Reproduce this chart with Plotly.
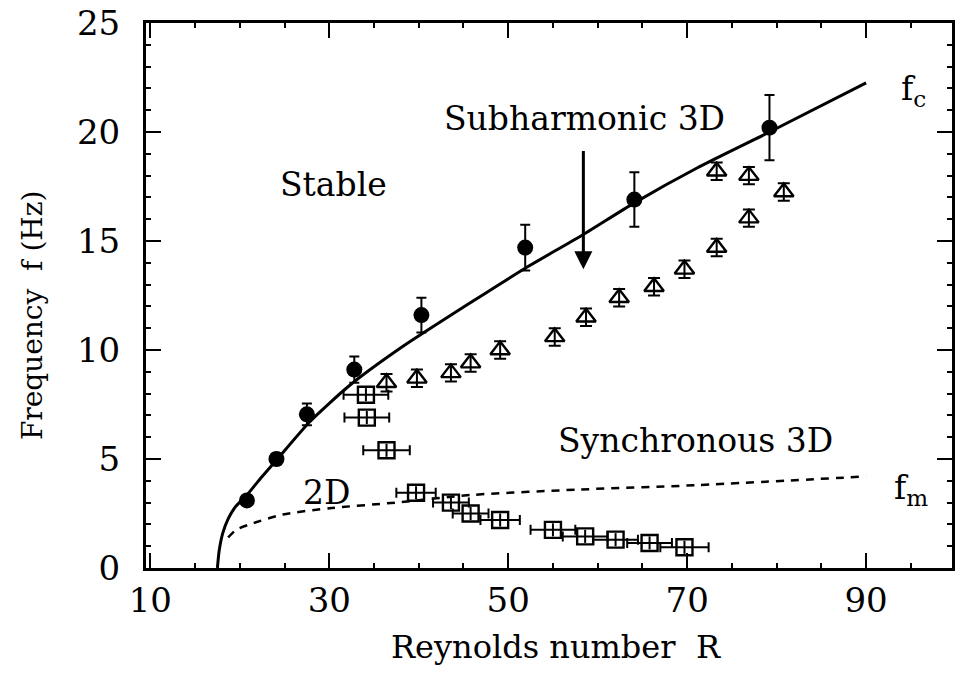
import plotly.graph_objects as go

# Critical frequency f_c: measured points (filled circles) with vertical error bars
fc_R = [20.8, 24.1, 27.5, 32.8, 40.3, 51.9, 64.1, 79.2]
fc_f = [3.1, 5.0, 7.05, 9.1, 11.6, 14.7, 16.9, 20.2]
fc_err = [0.2, 0.25, 0.5, 0.6, 0.8, 1.05, 1.25, 1.5]

# Fitted f_c curve (solid line)
fc_curve_R = [17.5, 17.7, 18.1, 18.7, 19.5, 20.8, 22.4, 24.1, 27.8, 32.2, 38.0, 45.9, 51.9, 58.4, 64.1, 71.1, 79.2, 90.0]
fc_curve_f = [0.0, 0.8, 1.6, 2.25, 2.8, 3.35, 4.15, 4.95, 6.7, 8.35, 10.1, 12.2, 13.75, 15.3, 16.75, 18.35, 20.0, 22.25]

# Mode frequency f_m curve (dashed line)
fm_curve_R = [18.7, 19.6, 21.1, 24.8, 30.3, 37.4, 45.9, 58.0, 71.1, 90.0]
fm_curve_f = [1.4, 1.75, 2.0, 2.45, 2.75, 3.0, 3.35, 3.6, 3.8, 4.2]

# Subharmonic 3D measurements (open triangles)
tri_R = [36.4, 39.8, 43.6, 45.8, 49.1, 55.2, 58.7, 62.4, 66.3, 69.7, 73.3, 76.9, 80.8, 73.3, 76.9]
tri_f = [8.5, 8.7, 8.95, 9.4, 10.0, 10.6, 11.5, 12.4, 12.9, 13.7, 14.7, 16.05, 17.25, 18.2, 18.0]
tri_err = [0.4] * len(tri_R)

# 2D measurements (open squares) with horizontal error bars
sq_R = [34.1, 34.2, 36.4, 39.7, 43.6, 45.8, 49.1, 55.0, 58.6, 62.0, 65.8, 69.7]
sq_f = [7.95, 6.9, 5.4, 3.45, 3.0, 2.5, 2.2, 1.75, 1.45, 1.3, 1.15, 0.95]
sq_xerr = [2.5, 2.5, 2.6, 2.2, 2.0, 2.0, 2.2, 2.5, 2.5, 2.5, 2.5, 2.7]
sq_yerr = [0.3] * len(sq_R)

x_ticks = [10, 30, 50, 70, 90]
y_ticks = [0, 5, 10, 15, 20, 25]

FONT = "DejaVu Serif"
BLACK = "black"

fig = go.Figure()

fig.add_trace(go.Scatter(
    x=fc_curve_R, y=fc_curve_f, mode="lines",
    line=dict(color=BLACK, width=3, shape="spline", smoothing=0.6),
    hoverinfo="skip", showlegend=False,
))
fig.add_trace(go.Scatter(
    x=fm_curve_R, y=fm_curve_f, mode="lines",
    line=dict(color=BLACK, width=2.5, dash="8px,7px", shape="spline", smoothing=0.8),
    hoverinfo="skip", showlegend=False,
))
fig.add_trace(go.Scatter(
    x=fc_R, y=fc_f, mode="markers",
    marker=dict(symbol="circle", size=16, color=BLACK),
    error_y=dict(type="data", array=fc_err, color=BLACK, thickness=2, width=5),
    showlegend=False,
))
fig.add_trace(go.Scatter(
    x=tri_R, y=tri_f, mode="markers",
    marker=dict(symbol="triangle-up-open", size=17, color=BLACK, line=dict(width=2.4)),
    error_y=dict(type="data", array=tri_err, color=BLACK, thickness=2, width=6),
    showlegend=False,
))
fig.add_trace(go.Scatter(
    x=sq_R, y=sq_f, mode="markers",
    marker=dict(symbol="square-open", size=16, color=BLACK, line=dict(width=2.4)),
    error_x=dict(type="data", array=sq_xerr, color=BLACK, thickness=2, width=5),
    error_y=dict(type="data", array=sq_yerr, color=BLACK, thickness=2, width=0),
    showlegend=False,
))

region_font = dict(family=FONT, size=33, color=BLACK)
annotations = [
    dict(x=30.5, y=17.6, text="Stable"),
    dict(x=58.5, y=20.6, text="Subharmonic 3D"),
    dict(x=70.9, y=5.85, text="Synchronous 3D"),
    dict(x=29.7, y=3.45, text="2D"),
    dict(x=95.3, y=21.9, text="f<sub>c</sub>"),
    dict(x=95.0, y=3.6, text="f<sub>m</sub>"),
]
for a in annotations:
    fig.add_annotation(xref="x", yref="y", showarrow=False, font=region_font,
                       xanchor="center", yanchor="middle", **a)

# Downward arrow marking the subharmonic onset
fig.add_annotation(
    x=58.4, y=13.7, ax=58.4, ay=19.2, xref="x", yref="y", axref="x", ayref="y",
    text="", showarrow=True, arrowhead=2, arrowsize=1.2, arrowwidth=3, arrowcolor=BLACK,
)

# Axis titles
fig.add_annotation(
    xref="paper", yref="paper", x=0.5, y=0, xshift=7, yshift=-79,
    text="Reynolds number\u00a0\u00a0R", showarrow=False,
    font=dict(family=FONT, size=32, color=BLACK), xanchor="center", yanchor="middle",
)
fig.add_annotation(
    xref="paper", yref="paper", x=0, y=0.464, xshift=-114,
    text="Frequency  f (Hz)", showarrow=False, textangle=-90,
    font=dict(family=FONT, size=28, color=BLACK), xanchor="center", yanchor="middle",
)

axis_common = dict(
    showline=True, linecolor=BLACK, linewidth=3, mirror="allticks",
    ticks="inside", ticklen=15, tickwidth=2, tickcolor=BLACK,
    showgrid=False, zeroline=False,
    tickfont=dict(family=FONT, size=34, color=BLACK),
)

fig.update_xaxes(
    range=[9.52, 99.6], tickvals=x_ticks, ticktext=[str(v) for v in x_ticks],
    minor=dict(dtick=5, tick0=10, ticks="inside", ticklen=5, tickwidth=2, tickcolor=BLACK),
    **axis_common,
)
fig.update_yaxes(
    range=[0, 25], tickvals=y_ticks, ticktext=[str(v) for v in y_ticks],
    ticklabelstandoff=16,
    minor=dict(dtick=1, tick0=0, ticks="inside", ticklen=5, tickwidth=2, tickcolor=BLACK),
    **axis_common,
)

fig.update_layout(
    width=956, height=674,
    margin=dict(l=146, r=1, t=23, b=106),
    paper_bgcolor="white", plot_bgcolor="white",
)

fig.write_html("out.html")
